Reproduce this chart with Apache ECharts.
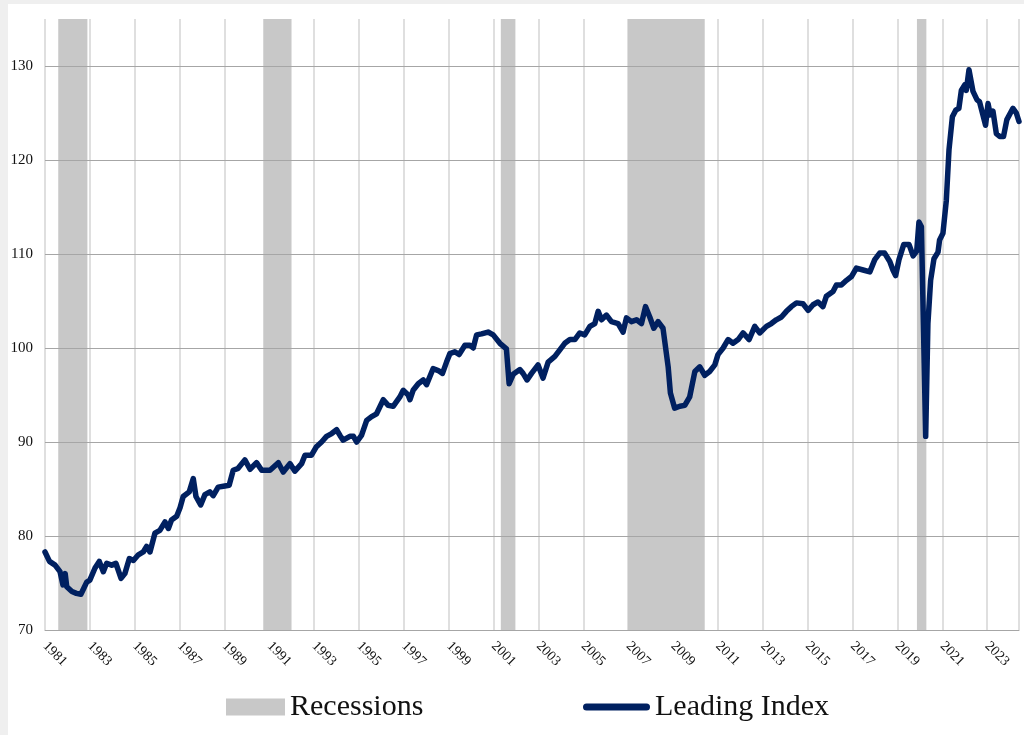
<!DOCTYPE html>
<html>
<head>
<meta charset="utf-8">
<script src="https://cdn.jsdelivr.net/npm/echarts@6/dist/echarts.min.js"></script>
<style>
html,body{margin:0;padding:0;width:1024px;height:735px;background:#efefef;overflow:hidden;}
#panel{position:absolute;left:8px;top:4px;right:0;bottom:0;background:#ffffff;}
#chart{position:absolute;left:0;top:0;width:1024px;height:735px;}
</style>
</head>
<body>
<div id="panel"></div>
<div id="chart"></div>
<script>
// Leading Index (x in decimal years)
const dates = [
1981.00,1981.20,1981.45,1981.67,1981.80,1981.90,1981.97,1982.20,1982.40,1982.60,1982.74,1982.86,
1983.00,1983.23,1983.42,1983.60,1983.75,1983.97,1984.16,1984.39,1984.56,1984.76,1984.94,
1985.16,1985.38,1985.53,1985.68,1985.90,1986.12,1986.35,1986.50,1986.64,1986.87,
1987.02,1987.16,1987.43,1987.61,1987.73,1987.94,1988.13,1988.35,1988.50,1988.72,1988.95,
1989.21,1989.39,1989.61,1989.91,1990.14,1990.43,1990.66,1991.03,1991.40,1991.62,1991.92,
1992.14,1992.44,1992.59,1992.88,1992.96,1993.10,1993.33,1993.55,1993.78,1994.00,1994.15,
1994.29,1994.59,1994.75,1994.89,1995.11,1995.34,1995.56,1995.78,1996.08,1996.30,1996.52,
1996.82,1996.97,1997.19,1997.27,1997.41,1997.64,1997.86,1998.01,1998.30,1998.53,1998.72,
1998.90,1999.05,1999.27,1999.46,1999.72,1999.94,2000.09,2000.24,2000.46,2000.75,2000.98,
2001.28,2001.57,2001.69,2001.87,2002.17,2002.31,2002.49,2002.69,2002.98,2003.20,2003.43,
2003.73,2003.95,2004.17,2004.40,2004.62,2004.84,2005.06,2005.29,2005.51,2005.66,2005.81,
2006.03,2006.25,2006.55,2006.77,2006.92,2007.14,2007.37,2007.59,2007.77,2007.96,2008.14,
2008.33,2008.55,2008.78,2008.88,2009.07,2009.30,2009.52,2009.74,2009.97,2010.19,2010.41,
2010.63,2010.86,2011.00,2011.23,2011.45,2011.67,2011.90,2012.12,2012.39,2012.64,2012.86,
2013.16,2013.38,2013.60,2013.83,2014.05,2014.27,2014.50,2014.79,2015.02,2015.24,2015.46,
2015.68,2015.83,2016.13,2016.28,2016.50,2016.73,2016.95,2017.17,2017.47,2017.77,2017.99,
2018.21,2018.43,2018.66,2018.80,2018.92,2019.07,2019.28,2019.52,2019.70,2019.86,2019.96,
2020.07,2020.26,2020.36,2020.48,2020.63,2020.81,2020.88,2021.03,2021.18,2021.30,2021.45,
2021.60,2021.74,2021.85,2022.00,2022.07,2022.19,2022.37,2022.55,2022.66,2022.81,2022.93,
2023.04,2023.14,2023.26,2023.41,2023.56,2023.73,2023.88,2024.15,2024.30,2024.42
];
const leadingIndex = [
78.3,77.3,76.9,76.2,74.8,76.0,74.6,74.1,73.9,73.8,74.5,75.1,
75.3,76.6,77.3,76.2,77.1,76.9,77.1,75.5,76.0,77.6,77.4,
78.0,78.3,78.9,78.3,80.3,80.6,81.5,80.8,81.7,82.1,
83.0,84.2,84.7,86.1,84.2,83.3,84.4,84.7,84.3,85.2,85.3,
85.4,87.0,87.2,88.1,87.1,87.8,87.0,87.0,87.8,86.8,87.7,
86.9,87.7,88.6,88.6,88.4,89.5,90.0,90.6,90.9,91.3,90.7,
90.2,90.6,90.6,90.0,90.7,92.3,92.7,93.0,94.5,93.9,93.8,
94.8,95.5,95.0,94.5,95.5,96.2,96.6,96.1,97.8,97.6,97.3,
98.5,99.4,99.6,99.3,100.3,100.3,100.0,101.4,101.5,101.7,101.4,
100.5,99.9,96.2,97.2,97.7,97.3,96.6,97.3,98.2,96.8,98.5,
99.1,99.8,100.5,100.9,100.9,101.6,101.4,102.3,102.6,103.9,103.0,
103.5,102.8,102.6,101.7,103.2,102.8,103.0,102.6,104.4,103.3,102.1,
102.8,102.1,98.0,95.2,93.6,93.8,93.9,94.8,97.5,98.0,97.1,
97.5,98.2,99.3,100.0,100.9,100.5,100.9,101.6,100.9,102.3,101.6,
102.3,102.6,103.0,103.3,103.9,104.4,104.8,104.7,104.0,104.6,104.9,
104.4,105.5,106.0,106.7,106.7,107.2,107.6,108.5,108.3,108.1,109.4,
110.1,110.1,109.2,108.3,107.7,109.4,111.0,111.0,109.8,110.3,113.4,
112.9,90.6,102.6,107.2,109.5,110.2,111.5,112.2,115.7,121.1,124.6,
125.3,125.5,127.4,128.0,127.4,129.6,127.3,126.4,126.2,124.8,123.7,
126.0,124.8,125.2,122.8,122.5,122.5,124.3,125.5,125.0,124.1
];
// Recession periods (decimal years)
const recessionStart = [1981.59, 1990.73, 2001.32, 2006.99, 2019.87];
const recessionEnd   = [1982.89, 1991.99, 2001.97, 2010.41, 2020.29];
// Axis ticks
const yTicks = [70, 80, 90, 100, 110, 120, 130];
const yMin = 70, yMax = 135;
const xTickStart = 1981, xTickStep = 2;
const xMax = 2024.42;

const serif = '"Liberation Serif", "Times New Roman", serif';
const chart = echarts.init(document.getElementById('chart'));
const lineData = dates.map((d, i) => [d, leadingIndex[i]]);
const areas = recessionStart.map((s, i) => [{xAxis: s}, {xAxis: recessionEnd[i]}]);

chart.setOption({
  backgroundColor: 'transparent',
  animation: false,
  grid: {left: 45, right: 5, top: 19, bottom: 105, containLabel: false},
  legend: [
    {
      data: [{name: 'Recessions', icon: 'rect'}],
      left: 226, top: 692, padding: 0,
      itemWidth: 59, itemHeight: 17,
      textStyle: {fontFamily: serif, fontSize: 30, color: '#111'}
    },
    {
      data: [{name: 'Leading Index', icon: 'path://M3.5,0 L63.5,0 A3.5,3.5 0 0 1 63.5,7 L3.5,7 A3.5,3.5 0 0 1 3.5,0 Z'}],
      left: 583, top: 692, padding: 0,
      itemWidth: 67, itemHeight: 7,
      textStyle: {fontFamily: serif, fontSize: 30, color: '#111'}
    }
  ],
  xAxis: {
    type: 'value', min: xTickStart, max: xMax, interval: xTickStep, z: 0,
    axisLine: {show: true, lineStyle: {color: '#a6a6a6', width: 1}},
    axisTick: {show: false},
    splitLine: {show: true, lineStyle: {color: '#d4d4d4', width: 1.5}},
    axisLabel: {
      rotate: -45, margin: 14, showMaxLabel: false,
      fontFamily: serif, fontSize: 14, color: '#111',
      formatter: v => String(Math.round(v))
    }
  },
  yAxis: {
    type: 'value', min: yMin, max: yMax, interval: 10, z: 3,
    axisLine: {show: false}, axisTick: {show: false},
    splitLine: {show: false},
    axisLabel: {
      margin: 12, showMaxLabel: false,
      fontFamily: serif, fontSize: 15, color: '#111',
      formatter: v => yTicks.indexOf(v) >= 0 ? String(v) : ''
    }
  },
  series: [
    {
      name: 'Recessions', type: 'line', data: [], z: 1,
      itemStyle: {color: '#c8c8c8'}, lineStyle: {color: '#c8c8c8'},
      markArea: {silent: true, itemStyle: {color: '#c8c8c8', opacity: 1}, data: areas}
    },
    {
      name: 'gridlines', type: 'line', data: [], z: 3, silent: true,
      markLine: {
        silent: true, symbol: 'none', label: {show: false},
        lineStyle: {color: '#a6a6a6', width: 1.2, type: 'solid'},
        emphasis: {disabled: true},
        data: yTicks.map(v => ({yAxis: v}))
      }
    },
    {
      name: 'Leading Index', type: 'line', data: lineData, z: 10,
      showSymbol: false, symbol: 'none',
      itemStyle: {color: '#002060'},
      lineStyle: {color: '#002060', width: 5.5, join: 'round', cap: 'round'}
    }
  ]
});
</script>
</body>
</html>
